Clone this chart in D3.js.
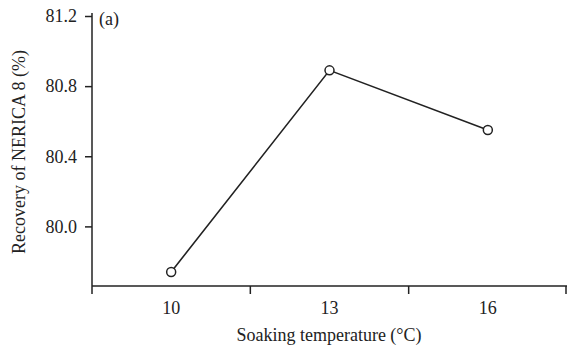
<!DOCTYPE html>
<html>
<head>
<meta charset="utf-8">
<script src="https://cdn.jsdelivr.net/npm/d3@7"></script>
<style>
  body { margin: 0; background: #fff; }
</style>
</head>
<body>
<svg id="chart" width="567" height="352"></svg>
<script>
// Soaking temperature vs. milling recovery
const temperatures = ["10", "13", "16"];
const recovery = [79.74, 80.89, 80.55];
const yTicks = [80.0, 80.4, 80.8, 81.2];
const panelLabel = "(a)";
const xTitle = "Soaking temperature (°C)";
const yTitle = "Recovery of NERICA 8 (%)";

(function () {
  const svg = d3.select("#chart");
  const m = { left: 92, right: 567, top: 16, bottom: 286 };
  const ink = "#222";
  const font = "'Liberation Serif', 'Times New Roman', Times, serif";
  const fs = 18;

  const x = d3.scaleBand().domain(temperatures).range([m.left, m.right]);
  const y = d3.scaleLinear().domain([79.66, 81.2]).range([m.bottom, m.top]);

  // x axis: line with boundary ticks pointing down, labels centred in bands
  const xg = svg.append("g");
  xg.append("line")
    .attr("x1", m.left).attr("x2", m.right)
    .attr("y1", m.bottom).attr("y2", m.bottom)
    .attr("stroke", ink).attr("stroke-width", 1.5);
  const bounds = temperatures.map(t => x(t)).concat([m.right - 1]);
  xg.selectAll("line.tk").data(bounds).enter().append("line")
    .attr("class", "tk")
    .attr("x1", d => d).attr("x2", d => d)
    .attr("y1", m.bottom).attr("y2", m.bottom + 8)
    .attr("stroke", ink).attr("stroke-width", 1.5);
  xg.selectAll("text").data(temperatures).enter().append("text")
    .attr("x", d => x(d) + x.bandwidth() / 2)
    .attr("y", 314)
    .attr("text-anchor", "middle")
    .style("font-family", font).style("font-size", fs + "px").style("fill", ink)
    .text(d => d);

  // y axis
  const yAxis = d3.axisLeft(y).tickValues(yTicks).tickFormat(d3.format(".1f")).tickSize(7).tickPadding(8);
  const yg = svg.append("g").attr("transform", `translate(${m.left},0)`).call(yAxis);
  yg.select(".domain").remove();
  yg.append("line").attr("x1", 0).attr("x2", 0).attr("y1", m.top - 3).attr("y2", m.bottom)
    .attr("stroke", ink).attr("stroke-width", 1.5);
  yg.selectAll(".tick line").attr("stroke", ink).attr("stroke-width", 1.5);
  yg.selectAll(".tick text")
    .style("font-family", font).style("font-size", fs + "px").style("fill", ink);

  // data line and open markers
  const cx = d => x(d) + x.bandwidth() / 2;
  const pts = temperatures.map((t, i) => [cx(t), y(recovery[i])]);
  svg.append("path")
    .attr("d", d3.line()(pts))
    .attr("fill", "none").attr("stroke", ink).attr("stroke-width", 1.6);
  svg.selectAll("circle").data(pts).enter().append("circle")
    .attr("cx", d => d[0]).attr("cy", d => d[1]).attr("r", 4.5)
    .attr("fill", "#fff").attr("stroke", ink).attr("stroke-width", 1.5);

  // labels
  const label = (sel) => sel.style("font-family", font).style("font-size", fs + "px").style("fill", ink);
  svg.append("text").attr("x", 99).attr("y", 25).call(label).text(panelLabel);
  svg.append("text").attr("x", 329).attr("y", 341).attr("text-anchor", "middle")
    .call(label).text(xTitle);
  svg.append("text").attr("transform", "translate(25,152) rotate(-90)")
    .attr("text-anchor", "middle").call(label).text(yTitle);
})();
</script>
</body>
</html>
